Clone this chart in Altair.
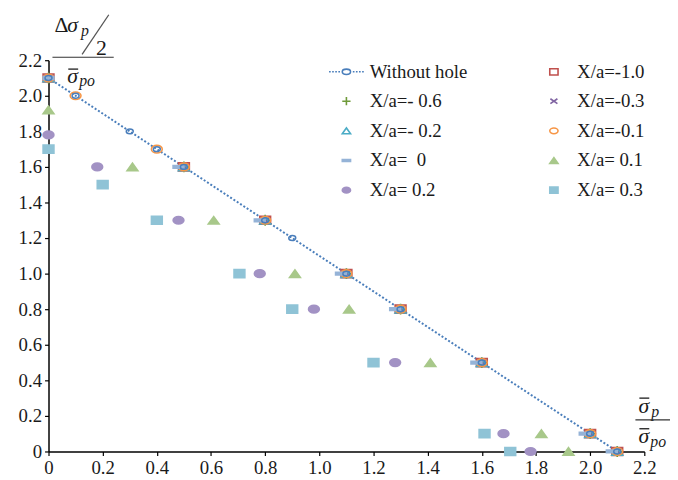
import altair as alt
import pandas as pd

# ---------------- data ----------------
series_names = ["Without hole", "X/a=-1.0", "X/a=-\u00a00.6", "X/a=-0.3", "X/a=-\u00a00.2",
                "X/a=-0.1", "X/a=\u00a0\u00a00", "X/a=\u00a00.1", "X/a=\u00a00.2", "X/a=\u00a00.3"]

without_x = [0, 0.1, 0.3, 0.4, 0.5, 0.8, 0.9, 1.1, 1.3, 1.6, 2.0, 2.1]
without_y = [2.1, 2.0, 1.8, 1.7, 1.6, 1.3, 1.2, 1.0, 0.8, 0.5, 0.1, 0]

m10_x = [0, 0.5, 0.8, 1.1, 1.3, 1.6, 2.0, 2.1]
m10_y = [2.1, 1.6, 1.3, 1.0, 0.8, 0.5, 0.1, 0]
m06_x = [0, 0.5, 0.8, 1.1, 1.3, 1.6, 2.0, 2.1]
m06_y = [2.1, 1.6, 1.3, 1.0, 0.8, 0.5, 0.1, 0]
m03_x = [0, 0.5, 0.8, 1.1, 1.3, 1.6, 2.0, 2.1]
m03_y = [2.1, 1.6, 1.3, 1.0, 0.8, 0.5, 0.1, 0]
m02_x = [0, 0.5, 0.8, 1.1, 1.3, 1.6, 2.0, 2.1]
m02_y = [2.1, 1.6, 1.3, 1.0, 0.8, 0.5, 0.1, 0]
m01_x = [0, 0.1, 0.4, 0.5, 0.8, 1.1, 1.3, 1.6, 2.0, 2.1]
m01_y = [2.1, 2.0, 1.7, 1.6, 1.3, 1.0, 0.8, 0.5, 0.1, 0]
z0_x = [0, 0.48, 0.78, 1.08, 1.28, 1.58, 1.98, 2.08]
z0_y = [2.1, 1.6, 1.3, 1.0, 0.8, 0.5, 0.1, 0]
p01_x = [0, 0.31, 0.61, 0.91, 1.11, 1.41, 1.82, 1.92]
p01_y = [1.92, 1.6, 1.3, 1.0, 0.8, 0.5, 0.1, 0]
p02_x = [0, 0.18, 0.48, 0.78, 0.98, 1.28, 1.68, 1.78]
p02_y = [1.78, 1.6, 1.3, 1.0, 0.8, 0.5, 0.1, 0]
p03_x = [0, 0.2, 0.4, 0.705, 0.9, 1.2, 1.61, 1.705]
p03_y = [1.7, 1.5, 1.3, 1.0, 0.8, 0.5, 0.1, 0]

x_ticks = [0, 0.2, 0.4, 0.6, 0.8, 1.0, 1.2, 1.4, 1.6, 1.8, 2.0, 2.2]
y_ticks = [0, 0.2, 0.4, 0.6, 0.8, 1.0, 1.2, 1.4, 1.6, 1.8, 2.0, 2.2]

# ---------------- tables ----------------
scatter_sets = [
    (series_names[1], m10_x, m10_y),
    (series_names[2], m06_x, m06_y),
    (series_names[3], m03_x, m03_y),
    (series_names[4], m02_x, m02_y),
    (series_names[5], m01_x, m01_y),
    (series_names[6], z0_x, z0_y),
    (series_names[7], p01_x, p01_y),
    (series_names[8], p02_x, p02_y),
    (series_names[9], p03_x, p03_y),
]
rows = []
for i, (name, xs_, ys_) in enumerate(scatter_sets):
    for j, (a, b) in enumerate(zip(xs_, ys_)):
        rows.append({"series": name, "x": a, "y": b, "order": i * 100 + j})
scatter_df = pd.DataFrame(rows)
without_df = pd.DataFrame({"x": without_x, "y": without_y})

# ---------------- styles ----------------
BLUE = "#4a7ebb"
stroke_map = {
    series_names[0]: BLUE, series_names[1]: "#c0504d", series_names[2]: "#6f9a3a",
    series_names[3]: "#8064a2", series_names[4]: "#4bacc6", series_names[5]: "#f79646",
    series_names[6]: "#95b3d7", series_names[7]: "#a8c88a", series_names[8]: "#a292c4",
    series_names[9]: "#8fc3d6",
}
fill_map = {k: "transparent" for k in series_names[:6]}
fill_map.update({k: stroke_map[k] for k in series_names[6:]})

dots = "".join(f"M{a},0L{a + 0.4:.2f},0" for a in [-4.2, -3.45, -2.7, -1.95, 1.55, 2.3, 3.05, 3.8])
WITHOUT_SYM = "M-1,0A1,0.65 0 1,1 1,0A1,0.65 0 1,1 -1,0Z" + dots
SQ = "M-1,-0.75L1,-0.75L1,0.75L-1,0.75Z"
PLUS = "M-1,0L1,0M0,-1L0,1"
CROSS = "M-0.85,-0.6L0.85,0.6M-0.85,0.6L0.85,-0.6"
TRI = "M-1,0.7L0,-0.7L1,0.7Z"
ELL = "M-1,0A1,0.7 0 1,1 1,0A1,0.7 0 1,1 -1,0Z"
DASH = "M-1,-0.25L1,-0.25L1,0.25L-1,0.25Z"
shape_map = dict(zip(series_names, [WITHOUT_SYM, SQ, PLUS, CROSS, TRI, ELL, DASH, TRI, ELL, SQ]))

# legend fills column by column: first column, then second column
legend_order = [series_names[i] for i in [0, 2, 4, 6, 8, 1, 3, 5, 7, 9]]

FONT = "Liberation Serif, Times New Roman, Times, DejaVu Serif, serif"
TXT = "#1a1a1a"

leg = alt.Legend(orient="none", legendX=292, legendY=2, columns=2, columnPadding=78,
                 rowPadding=10, symbolSize=70, symbolStrokeWidth=1.6, labelFont=FONT,
                 labelFontSize=19, labelColor=TXT, labelOffset=14, title=None,
                 padding=0, labelLimit=300)

xs = alt.Scale(domain=[0, 2.2], nice=False, zero=False)
ys = alt.Scale(domain=[0, 2.2], nice=False, zero=False)
lab = "datum.value == 0 ? '0' : format(datum.value, '.1f')"
x_axis = alt.Axis(values=x_ticks, labelExpr=lab, title=None, grid=False,
                  labelFlush=False, labelOverlap=False)
y_axis = alt.Axis(values=y_ticks, labelExpr=lab, title=None, grid=False,
                  labelFlush=False, labelOverlap=False, labelSeparation=0, labelBound=False)

line = alt.Chart(without_df).mark_line(color=BLUE, strokeWidth=2, strokeDash=[2, 2]).encode(
    x=alt.X("x:Q", scale=xs, axis=x_axis),
    y=alt.Y("y:Q", scale=ys, axis=y_axis),
)

pts = alt.Chart(scatter_df).mark_point(filled=True, size=120, strokeWidth=1.6, opacity=1).encode(
    x=alt.X("x:Q", axis=x_axis), y=alt.Y("y:Q", axis=y_axis),
    stroke=alt.Stroke("series:N", scale=alt.Scale(domain=legend_order,
                                                  range=[stroke_map[k] for k in legend_order]), legend=leg),
    fill=alt.Fill("series:N", scale=alt.Scale(domain=legend_order,
                                              range=[fill_map[k] for k in legend_order]), legend=leg),
    shape=alt.Shape("series:N", scale=alt.Scale(domain=legend_order,
                                                range=[shape_map[k] for k in legend_order]), legend=leg),
    order="order:Q",
)

wpts = alt.Chart(without_df).mark_point(shape=ELL, size=50, stroke=BLUE, strokeWidth=1.5,
                                        fill="transparent", filled=False, opacity=1).encode(
    x=alt.X("x:Q", axis=x_axis), y=alt.Y("y:Q", axis=y_axis))


def txt(s, x, y, size, italic=False):
    return alt.Chart(alt.Data(values=[{}])).mark_text(
        text=s, x=x, y=y, fontSize=size, font=FONT, align="left", baseline="alphabetic",
        fontStyle="italic" if italic else "normal", color=TXT)


def rule(x1, y1, x2, y2, color=TXT, w=1.2):
    return alt.Chart(alt.Data(values=[{}])).mark_rule(color=color, strokeWidth=w).encode(
        x=alt.value(x1), x2=alt.value(x2), y=alt.value(y1), y2=alt.value(y2))


annot = [
    # y-axis title
    txt("Δ", 6, -29, 22), txt("σ", 19, -29, 22, True), txt("p", 33, -25, 16, True),
    rule(34, -6, 61, -46, "#555", 1.3), txt("2", 48, -5, 22),
    rule(4, -3, 66, -3, "#333", 1.2),
    txt("σ", 19, 23, 22, True), rule(20, 9, 30, 9, TXT, 1.3), txt("po", 31, 26, 16, True),
    # x-axis title
    txt("σ", 597, 357, 22, True), rule(598, 342, 608, 342, TXT, 1.3), txt("p", 610, 361, 16, True),
    rule(594, 364, 629, 364, "#333", 1.2),
    txt("σ", 597, 387, 22, True), rule(598, 373, 608, 373, TXT, 1.3), txt("po", 609, 391, 16, True),
]

chart = alt.layer(line, pts, wpts, *annot).properties(
    width=603, height=396,
    autosize=alt.AutoSizeParams(type="none"),
    padding={"left": 41, "top": 50, "right": 26, "bottom": 24},
).configure_view(stroke=None).configure_axis(
    domainColor="black", domainWidth=1.5, tickColor="black", tickSize=4, tickWidth=1.2,
    labelFont=FONT, labelFontSize=19, labelColor=TXT, labelPadding=3, labelOverlap=False,
)

chart.save("out.html", embed_options={"renderer": "svg", "actions": False})
